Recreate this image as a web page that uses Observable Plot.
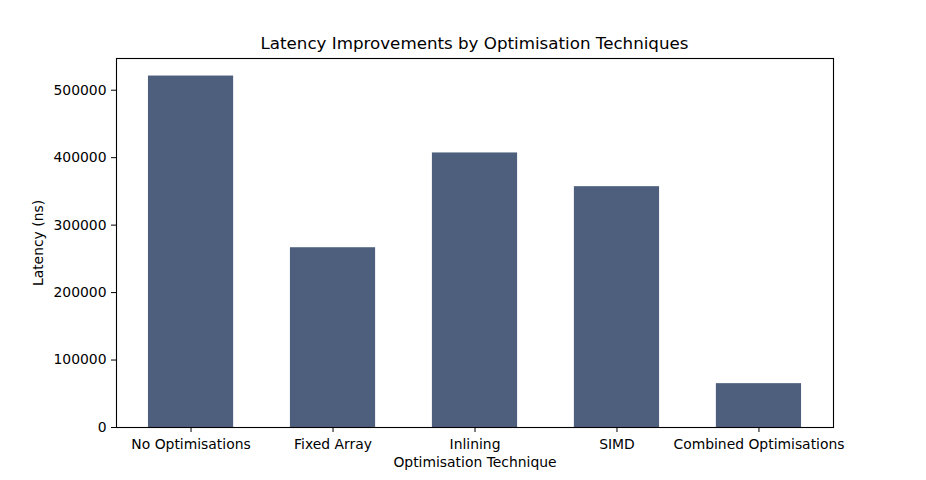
<!DOCTYPE html>
<html><head><meta charset="utf-8">
<script src="https://cdn.jsdelivr.net/npm/d3@7"></script>
<script src="https://cdn.jsdelivr.net/npm/@observablehq/plot@0.6"></script>
<style>
body{margin:0;background:#fff;}
#wrap{position:relative;width:926px;height:480px;font-family:"DejaVu Sans",sans-serif;}
#title{position:absolute;left:116px;width:717px;top:33px;text-align:center;font-size:16.7px;line-height:20px;color:#000;white-space:nowrap;}
</style></head><body>
<div id="wrap"><div id="title">Latency Improvements by Optimisation Techniques</div></div>
<script>
const categories = ["No Optimisations", "Fixed Array", "Inlining", "SIMD", "Combined Optimisations"];
const latencies = [521000, 266500, 407000, 357000, 65000];
const yTicks = [0, 100000, 200000, 300000, 400000, 500000];
const data = categories.map((c, i) => ({technique: c, latency: latencies[i]}));

const chart = Plot.plot({
  width: 926, height: 480,
  marginLeft: 116, marginRight: 93, marginTop: 58, marginBottom: 53,
  style: {fontFamily: "DejaVu Sans", fontSize: "13.9px", color: "black", background: "white"},
  x: {domain: categories, paddingInner: 0.4, paddingOuter: 0.225, round: false, label: "Optimisation Technique"},
  y: {domain: [0, 547000], ticks: yTicks, tickFormat: d => String(d), label: "Latency (ns)"},
  marks: [
    Plot.barY(data, {x: "technique", y: "latency", fill: "#4e5f7d"}),
    Plot.axisX({tickSize: 5, tickPadding: 7, label: "Optimisation Technique", labelAnchor: "center", labelOffset: 39, labelArrow: "none"}),
    Plot.axisY({ticks: yTicks, tickSize: 5, tickPadding: 5, tickFormat: d => String(d), label: "Latency (ns)", labelAnchor: "center", labelOffset: 83, labelArrow: "none"}),
    Plot.frame({stroke: "black", strokeWidth: 1.1})
  ]
});
chart.style.position = "absolute";
chart.style.left = "0";
chart.style.top = "0";
document.getElementById("wrap").prepend(chart);
</script>
</body></html>
